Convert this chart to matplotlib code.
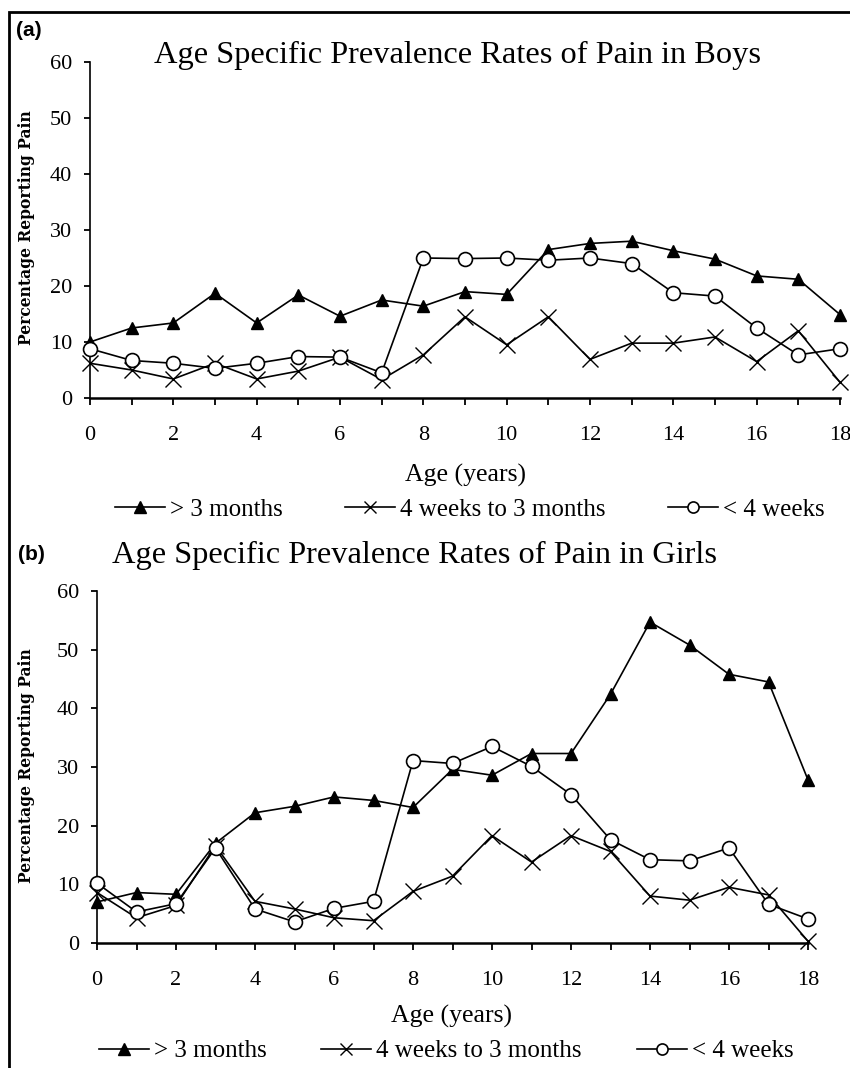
"""Age specific prevalence rates of pain in boys (a) and girls (b)."""

import matplotlib

matplotlib.use("Agg")
import matplotlib.pyplot as plt
from matplotlib.lines import Line2D
from matplotlib.patches import Rectangle

plt.rcParams["font.family"] = ["Liberation Serif", "DejaVu Serif"]

AGES = list(range(19))

# Boys, percentage reporting pain
BOYS_OVER_3M = [10.0, 12.5, 13.4, 18.7, 13.4, 18.4, 14.6, 17.5, 16.4, 19.0,
                18.5, 26.5, 27.6, 28.0, 26.3, 24.8, 21.8, 21.2, 14.9]
BOYS_4W_3M = [6.2, 5.0, 3.4, 6.2, 3.4, 4.8, 7.3, 3.3, 7.7, 14.5,
              9.5, 14.5, 6.9, 9.8, 9.8, 10.9, 6.5, 12.0, 2.8]
BOYS_UNDER_4W = [8.8, 6.7, 6.2, 5.3, 6.2, 7.4, 7.3, 4.5, 25.0, 24.9,
                 25.0, 24.6, 25.0, 24.0, 18.8, 18.2, 12.5, 7.7, 8.8]

# Girls, percentage reporting pain
GIRLS_OVER_3M = [7.0, 8.6, 8.3, 17.0, 22.2, 23.3, 24.9, 24.3, 23.1, 29.6,
                 28.6, 32.3, 32.3, 42.4, 54.7, 50.8, 45.8, 44.5, 27.8]
GIRLS_4W_3M = [8.6, 4.3, 6.4, 16.6, 7.1, 5.8, 4.3, 3.8, 8.8, 11.4,
               18.3, 13.8, 18.3, 15.6, 8.0, 7.3, 9.5, 8.2, 0.3]
GIRLS_UNDER_4W = [10.2, 5.3, 6.7, 16.2, 5.8, 3.6, 5.9, 7.1, 31.1, 30.6,
                  33.5, 30.1, 25.3, 17.6, 14.2, 14.0, 16.2, 6.6, 4.1]

LABELS = ["> 3 months", "4 weeks to 3 months", "< 4 weeks"]
TITLES = ["Age Specific Prevalence Rates of Pain in Boys",
          "Age Specific Prevalence Rates of Pain in Girls"]

STYLES = [
    dict(marker="^", ms=8, mfc="black", mec="black"),
    dict(marker="x", ms=11, mew=1.0, mec="black"),
    dict(marker="o", ms=10, mfc="white", mec="black", mew=1.2),
]


def draw_panel(ax, series):
    for i in (0, 2, 1):
        ax.plot(AGES, series[i], color="black", lw=1.2, clip_on=False,
                zorder=3 + i, **STYLES[i])
    ax.set_xlim(0, 18)
    ax.set_ylim(0, 60)
    ax.set_xticks(AGES)
    ax.set_xticklabels([str(a) if a % 2 == 0 else "" for a in AGES])
    ax.set_yticks(range(0, 61, 10))
    for side in ("top", "right"):
        ax.spines[side].set_visible(False)
    ax.spines["bottom"].set_linewidth(1.8)
    ax.spines["left"].set_linewidth(1.2)
    ax.tick_params(axis="x", direction="out", length=5, width=1.3,
                   labelsize=16, pad=15)
    ax.tick_params(axis="y", direction="out", length=4, width=1.3,
                   labelsize=16, pad=9)


fig = plt.figure(figsize=(8.5, 10.68), dpi=100)
W, H = 850.0, 1068.0

ax_a = fig.add_axes([90 / W, 1 - 398 / H, 750 / W, 336 / H])
ax_b = fig.add_axes([97 / W, 1 - 943 / H, 711 / W, 352 / H])

draw_panel(ax_a, [BOYS_OVER_3M, BOYS_4W_3M, BOYS_UNDER_4W])
draw_panel(ax_b, [GIRLS_OVER_3M, GIRLS_4W_3M, GIRLS_UNDER_4W])

# panel letters and titles
fig.text(16 / W, 1 - 31 / H, "(a)", family="Liberation Sans", weight="bold",
         fontsize=15, va="center", ha="left")
fig.text(18 / W, 1 - 554 / H, "(b)", family="Liberation Sans", weight="bold",
         fontsize=15, va="center", ha="left")
fig.text(154 / W, 1 - 63 / H, TITLES[0], fontsize=23.3, ha="left", va="baseline")
fig.text(112 / W, 1 - 563 / H, TITLES[1], fontsize=23.3, ha="left", va="baseline")

# axis labels
for yc in (228, 766):
    fig.text(27 / W, 1 - yc / H, "Percentage Reporting Pain",
             family="DejaVu Serif", weight="bold", fontsize=11.2, rotation=90,
             ha="center", va="center")
fig.text(465 / W, 1 - 475 / H, "Age (years)", fontsize=18.5,
         ha="center", va="center")
fig.text(451 / W, 1 - 1016 / H, "Age (years)", fontsize=18.5,
         ha="center", va="center")

# legends
handles = [Line2D([], [], color="black", lw=1.2, **STYLES[0]),
           Line2D([], [], color="black", lw=1.2, **dict(STYLES[1], ms=9)),
           Line2D([], [], color="black", lw=1.2, **dict(STYLES[2], ms=8))]
for xc, yc, cs in ((470, 510, 2.5), (446, 1051, 2.2)):
    fig.legend(handles, LABELS, loc="center", bbox_to_anchor=(xc / W, 1 - yc / H),
               ncol=3, frameon=False, fontsize=18, handlelength=2.0,
               handletextpad=0.2, columnspacing=cs, borderpad=0)

# outer frame (clipped at the right and bottom edges)
fig.patches.append(Rectangle((9 / W, -0.05), 1.2, 1 - 12 / H + 0.05,
                             transform=fig.transFigure, fill=False,
                             lw=2.0, ec="black"))

fig.savefig("out.png", dpi=100)
